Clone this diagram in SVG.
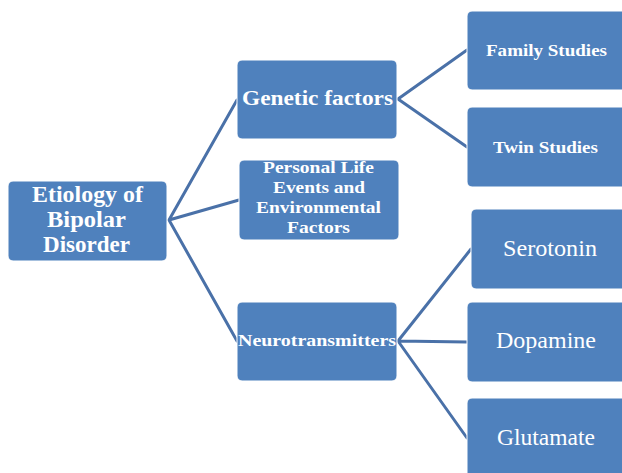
<svg xmlns="http://www.w3.org/2000/svg" width="622" height="473" viewBox="0 0 622 473">
<style>
.box{fill:#4F81BD;stroke:#FFFFFF;stroke-width:1}
.t{font-family:"Liberation Serif","Times New Roman",serif;fill:#FFFFFF;text-anchor:middle}
.b{font-weight:bold}
.c{stroke:#4A71A8;stroke-width:3;fill:none;stroke-linecap:round}
</style>
<rect width="622" height="473" fill="#FFFFFF"/>
<g id="connectors">
<path class="c" d="M169 220 L237 100 M169 220 L239 200 M169 220 L237 341"/>
<path class="c" d="M398 99 L467 50 M398 99 L467 147"/>
<path class="c" d="M398 341 L471 249 M398 341 L467 342 M398 341 L467 438"/>
</g>
<g id="root">
<rect class="box" x="8" y="181" width="159" height="80" rx="5"/>
<text class="t b" font-size="23" x="87.5" y="202" textLength="111" lengthAdjust="spacingAndGlyphs">Etiology of</text>
<text class="t b" font-size="23" x="86.5" y="227" textLength="79" lengthAdjust="spacingAndGlyphs">Bipolar</text>
<text class="t b" font-size="23" x="86.5" y="252" textLength="87" lengthAdjust="spacingAndGlyphs">Disorder</text>
</g>
<g id="genetic">
<rect class="box" x="237" y="60" width="160" height="79" rx="5"/>
<text class="t b" font-size="22" x="317.5" y="105" textLength="151" lengthAdjust="spacingAndGlyphs">Genetic factors</text>
</g>
<g id="personal">
<rect class="box" x="239" y="160" width="160" height="80" rx="5"/>
<text class="t b" font-size="17" x="318.5" y="173" textLength="111" lengthAdjust="spacingAndGlyphs">Personal Life</text>
<text class="t b" font-size="17" x="319" y="193" textLength="92" lengthAdjust="spacingAndGlyphs">Events and</text>
<text class="t b" font-size="17" x="318.5" y="213" textLength="125" lengthAdjust="spacingAndGlyphs">Environmental</text>
<text class="t b" font-size="17" x="318.5" y="233" textLength="63" lengthAdjust="spacingAndGlyphs">Factors</text>
</g>
<g id="neuro">
<rect class="box" x="237" y="302" width="160" height="79" rx="5"/>
<text class="t b" font-size="17" x="317" y="346" textLength="158" lengthAdjust="spacingAndGlyphs">Neurotransmitters</text>
</g>
<g id="family">
<rect class="box" x="467" y="11" width="160" height="79" rx="5"/>
<text class="t b" font-size="17.5" x="546.5" y="56" textLength="121" lengthAdjust="spacingAndGlyphs">Family Studies</text>
</g>
<g id="twin">
<rect class="box" x="467" y="107" width="160" height="80" rx="5"/>
<text class="t b" font-size="17.5" x="545.5" y="153" textLength="105" lengthAdjust="spacingAndGlyphs">Twin Studies</text>
</g>
<g id="serotonin">
<rect class="box" x="471" y="209" width="160" height="80" rx="5"/>
<text class="t" font-size="23" x="550" y="256" textLength="94" lengthAdjust="spacingAndGlyphs">Serotonin</text>
</g>
<g id="dopamine">
<rect class="box" x="467" y="302" width="160" height="80" rx="5"/>
<text class="t" font-size="23" x="546" y="348" textLength="100" lengthAdjust="spacingAndGlyphs">Dopamine</text>
</g>
<g id="glutamate">
<rect class="box" x="467" y="398" width="160" height="80" rx="5"/>
<text class="t" font-size="23" x="546" y="445" textLength="98" lengthAdjust="spacingAndGlyphs">Glutamate</text>
</g>
</svg>
